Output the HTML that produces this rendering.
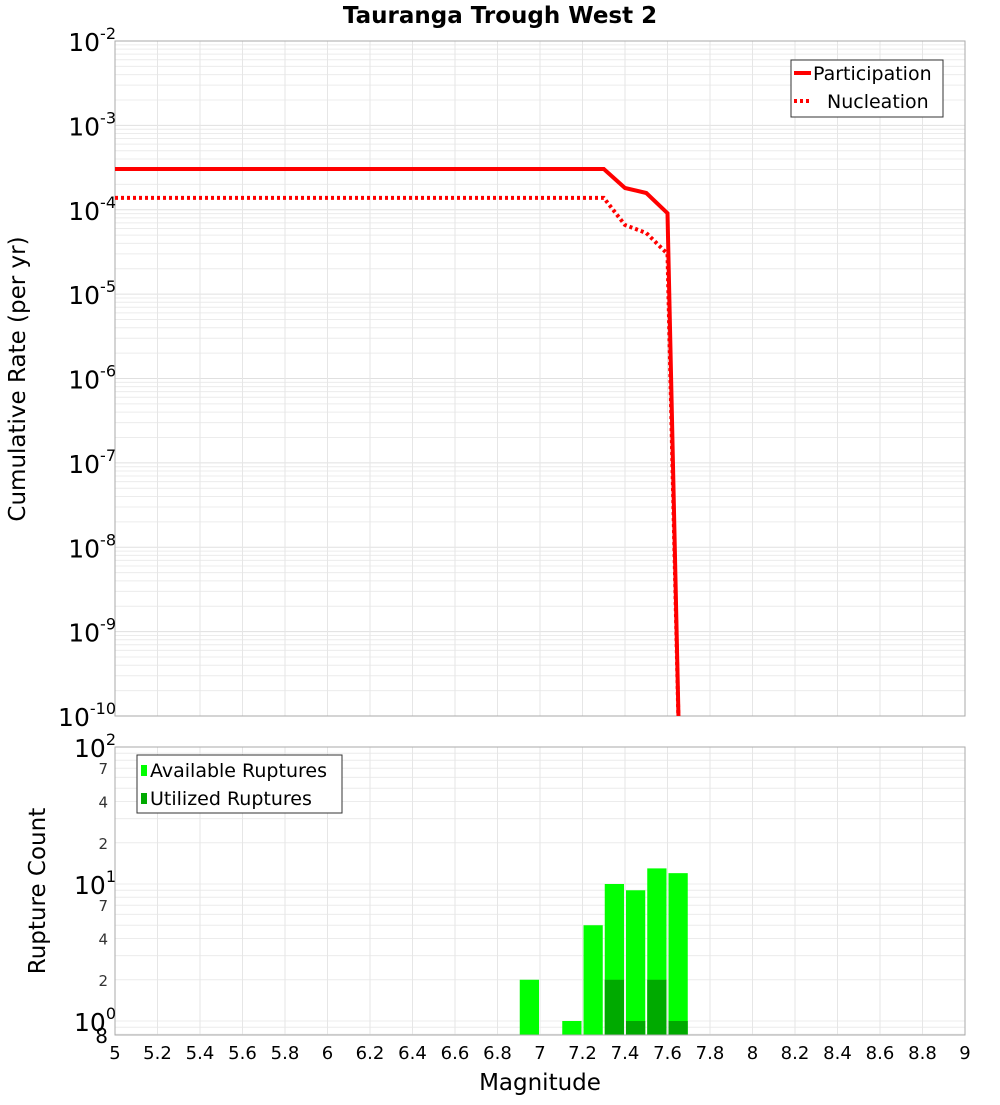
<!DOCTYPE html>
<html><head><meta charset="utf-8"><style>
body{margin:0;background:#fff;font-family:"Liberation Sans","DejaVu Sans",sans-serif}
svg text{font-family:"DejaVu Sans","Liberation Sans",sans-serif}
</style></head><body>
<svg id="c" width="1000" height="1100" xmlns="http://www.w3.org/2000/svg"></svg>
<script>
const xTicks=[5,5.2,5.4,5.6,5.8,6,6.2,6.4,6.6,6.8,7,7.2,7.4,7.6,7.8,8,8.2,8.4,8.6,8.8,9];
const xTickLabels=["5","5.2","5.4","5.6","5.8","6","6.2","6.4","6.6","6.8","7","7.2","7.4","7.6","7.8","8","8.2","8.4","8.6","8.8","9"];
const partMags=[5,7.3,7.4,7.5,7.6,7.66];
const partRates=[3.04e-4,3.04e-4,1.81e-4,1.58e-4,9.1e-5,1e-11];
const nuclMags=[5,7.3,7.4,7.5,7.6,7.66];
const nuclRates=[1.38e-4,1.38e-4,6.6e-5,5.3e-5,3.0e-5,1e-11];
const binMags=[6.95,7.15,7.25,7.35,7.45,7.55,7.65];
const availCounts=[2,1,5,10,9,13,12];
const utilCounts=[0,0,0,2,1,2,1];
const topExps=[-2,-3,-4,-5,-6,-7,-8,-9,-10];

const svg=document.getElementById('c');const NS='http://www.w3.org/2000/svg';
function el(t,a,p){const e=document.createElementNS(NS,t);for(const k in a)e.setAttribute(k,a[k]);(p||svg).appendChild(e);return e;}
const L=115,R=965;
const X=m=>L+(m-5)/4*(R-L);
const T0=41,T1=716;
const YT=v=>T0+(-2-Math.log10(v))/8*(T1-T0);
const B0=747,B1=1035,DEC=137;
const YB=v=>1021-Math.log10(v)*DEC;

let t=el('text',{x:500,y:23,'text-anchor':'middle','font-size':23,'font-weight':'bold'});t.textContent='Tauranga Trough West 2';


let g=el('g',{});
el('rect',{x:L,y:T0,width:R-L,height:T1-T0,fill:'#fff'},g);
for(let e=-10;e<-2;e++)for(let k=1;k<10;k++){const y=YT(k*Math.pow(10,e));el('line',{x1:L,x2:R,y1:y,y2:y,stroke:k==1?'#e0e0e0':'#ececec','stroke-width':1},g);}
xTicks.forEach(m=>el('line',{x1:X(m),x2:X(m),y1:T0,y2:T1,stroke:'#e6e6e6'},g));
el('rect',{x:L,y:T0,width:R-L,height:T1-T0,fill:'none',stroke:'#aaa'},g);
topExps.forEach(e=>{const y=YT(Math.pow(10,e));const tx=el('text',{x:116,y:y+10,'text-anchor':'end','font-size':25},g);
tx.innerHTML='10<tspan dy="-12" font-size="16">'+e+'</tspan>';});
const clip=el('clipPath',{id:'cp'});el('rect',{x:L,y:T0,width:R-L,height:T1-T0},clip);
function path(ms,vs){return ms.map((m,i)=>(i?'L':'M')+X(m).toFixed(1)+','+YT(vs[i]).toFixed(1)).join('');}
let p=el('path',{d:path(nuclMags,nuclRates),fill:'none',stroke:'#f00','stroke-width':4,'stroke-dasharray':'3,3','clip-path':'url(#cp)'},g);

p=el('path',{d:path(partMags,partRates),fill:'none',stroke:'#f00','stroke-width':4,'clip-path':'url(#cp)'},g);

let lg=el('g',{},g);
el('rect',{x:791,y:60,width:152,height:57,fill:'#fff',stroke:'#333'},lg);
el('line',{x1:794,x2:811,y1:73,y2:73,stroke:'#f00','stroke-width':4},lg);
el('line',{x1:794,x2:811,y1:101,y2:101,stroke:'#f00','stroke-width':4,'stroke-dasharray':'3,3'},lg);
t=el('text',{x:813,y:80,'font-size':19},lg);t.textContent='Participation';
t=el('text',{x:827,y:108,'font-size':19},lg);t.textContent='Nucleation';
t=el('text',{x:0,y:0,'font-size':23,'text-anchor':'middle',transform:'translate(25,379) rotate(-90)'});t.textContent='Cumulative Rate (per yr)';


g=el('g',{});
el('rect',{x:L,y:B0,width:R-L,height:B1-B0,fill:'#fff'},g);
[0.8,0.9,1,2,3,4,5,6,7,8,9,10,20,30,40,50,60,70,80,90,100].forEach(v=>{const y=YB(v);el('line',{x1:L,x2:R,y1:y,y2:y,stroke:'#ececec'},g);});
xTicks.forEach(m=>el('line',{x1:X(m),x2:X(m),y1:B0,y2:B1,stroke:'#e6e6e6'},g));
binMags.forEach((m,i)=>{const x=X(m-0.05)+1,w=X(0.1+5)-L-2;
 let r=el('rect',{x:x,y:YB(availCounts[i]),width:w,height:B1-YB(availCounts[i]),fill:'#00ff00'},g);
 
 if(utilCounts[i]>0){r=el('rect',{x:x,y:YB(utilCounts[i]),width:w,height:B1-YB(utilCounts[i]),fill:'#00aa00'},g);
 }});
el('rect',{x:L,y:B0,width:R-L,height:B1-B0,fill:'none',stroke:'#aaa'},g);
[[1,0],[10,1],[100,2]].forEach(([v,e])=>{const tx=el('text',{x:116,y:YB(v)+10,'text-anchor':'end','font-size':25},g);tx.innerHTML='10<tspan dy="-12" font-size="16">'+e+'</tspan>';});
[2,4,7,20,40,70].forEach(v=>{const tx=el('text',{x:108,y:YB(v)+6,'text-anchor':'end','font-size':15,fill:'#333'},g);tx.textContent=String(v).charAt(0);});
t=el('text',{x:108,y:1043,'text-anchor':'end','font-size':20},g);t.textContent='8';
lg=el('g',{},g);
el('rect',{x:137,y:755,width:205,height:58,fill:'#fff',stroke:'#333'},lg);
el('rect',{x:141,y:765,width:6,height:11,fill:'#00ff00'},lg);
el('rect',{x:141,y:793,width:6,height:11,fill:'#00aa00'},lg);
t=el('text',{x:150,y:777,'font-size':19},lg);t.textContent='Available Ruptures';
t=el('text',{x:150,y:805,'font-size':19},lg);t.textContent='Utilized Ruptures';
xTicks.forEach((m,i)=>{const tx=el('text',{x:X(m),y:1059,'text-anchor':'middle','font-size':18},g);tx.textContent=xTickLabels[i];});
t=el('text',{x:540,y:1090,'text-anchor':'middle','font-size':23});t.textContent='Magnitude';

t=el('text',{x:0,y:0,'font-size':23,'text-anchor':'middle',transform:'translate(45,891) rotate(-90)'});t.textContent='Rupture Count';

</script>
</body></html>
